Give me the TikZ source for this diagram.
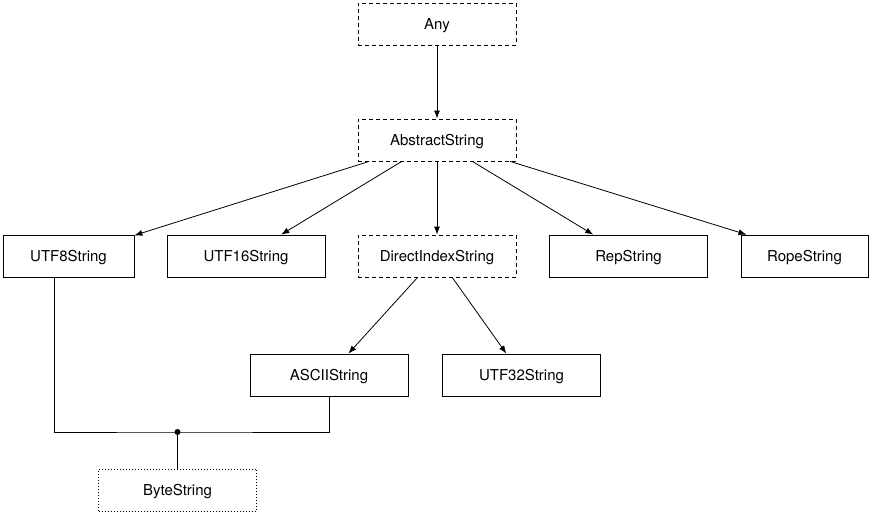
\documentclass[tikz,border=0pt]{standalone}
\usepackage{fontspec}
\setmainfont{TeX Gyre Heros}
\usetikzlibrary{arrows.meta}

\begin{document}
\begin{tikzpicture}[x=1pt,y=-1pt,line width=0.8pt,
    box/.style={draw,minimum width=158pt,minimum height=42pt,inner sep=0pt,
      text height=10.8pt,text depth=0pt,font=\fontsize{15}{18}\selectfont},
    abstract/.style={box,dash pattern=on 4pt off 3pt},
    bytebox/.style={box,dash pattern=on 1pt off 2pt},
    >={Latex[length=8pt,width=6pt]}]
    \useasboundingbox (0,0) rectangle (872,514);
    \node[abstract] (any) at (437, 24) {Any};
    \node[abstract] (abs) at (437, 140) {AbstractString};
    \node[box,minimum width=131pt] (u8) at (68.5, 256) {UTF8String};
    \node[box] (u16) at (246, 256) {UTF16String};
    \node[abstract] (dis) at (437, 256) {DirectIndexString};
    \node[box] (rep) at (628.5, 256) {RepString};
    \node[box,minimum width=127pt] (rope) at (804.5, 256) {RopeString};
    \node[box] (ascii) at (329, 375) {ASCIIString};
    \node[box] (u32) at (521.5, 375) {UTF32String};
    \node[bytebox] (byte) at (177.5, 490) {ByteString};
    \coordinate (j) at (177.5, 432);
    \draw [->] (any) to (abs);
    \draw [->] (abs) to (u8);
    \draw [->] (abs) to (u16);
    \draw [->] (abs) to (dis);
    \draw [->] (abs) to (rep);
    \draw [->] ([xshift=73pt]abs.south) to ([xshift=-58pt]rope.north);
    \draw [->] (dis) to (ascii);
    \draw [->] (dis) to (u32);
    \draw ([xshift=-14.5pt]u8.south) |- (j) -| (ascii.south);
    \draw (j) to (byte);
    \fill (j) circle (3pt);
  \end{tikzpicture}
\end{document}
